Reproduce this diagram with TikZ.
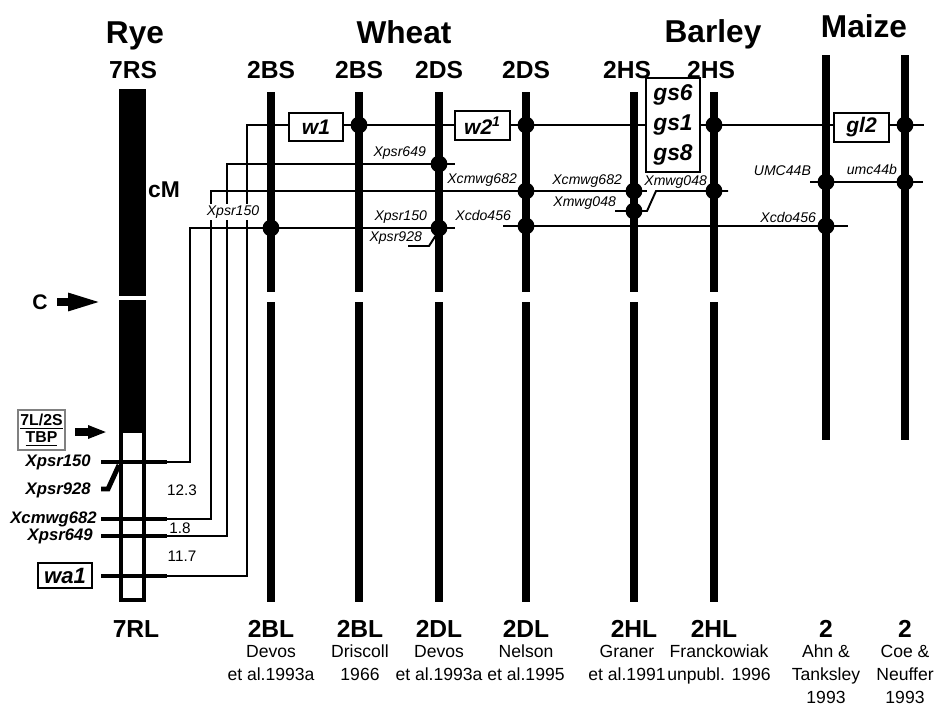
\documentclass[tikz,border=0pt]{standalone}
\usepackage{fontspec}
\setmainfont{Liberation Sans}
\usetikzlibrary{arrows.meta,positioning}
\newcommand{\fsz}[1]{\fontsize{#1}{#1}\selectfont}

\begin{document}
\begin{tikzpicture}[x=0.02cm,y=-0.02cm,
    chrom/.style={line width=4.5pt},
    link/.style={line width=1.1pt},
    rtick/.style={line width=2.8pt},
    locus/.style={circle,fill,inner sep=0pt,minimum size=9.6pt},
    gene/.style={draw,fill=white,line width=1.1pt,inner sep=0pt,minimum width=1.08cm,minimum height=0.56cm,font=\bfseries\itshape\fsz{12}},
    mlab/.style={font=\itshape\fsz{8},inner sep=1pt,anchor=east},
    rlab/.style={font=\bfseries\itshape\fsz{9.5},inner sep=0pt,anchor=east},
    title/.style={font=\bfseries\fsz{18},anchor=base},
    arm/.style={font=\bfseries\fsz{14},anchor=base},
    ref/.style={font=\fsz{10},inner sep=0pt,anchor=base},
    distlab/.style={font=\fsz{8.7}}
  ]
    \useasboundingbox (0,0) rectangle (952,707);

    % titles and short arms
    \node[title] (rye) at (135,43) {Rye};
    \node[title] (wheat) at (404,43) {Wheat};
    \node[title] (barley) at (713,42) {Barley};
    \node[title] (maize) at (864,37) {Maize};
    \foreach \x/\s [count=\i] in {133/7RS,271/2BS,359/2BS,439/2DS,526/2DS,627/2HS,711/2HS}
      \node[arm] (top\i) at (\x,78) {\s};

    % rye 7R
    \fill (119,89) rectangle (146,296);
    \fill (119,300) rectangle (146,431);
    \draw[line width=2.3pt] (121,431) rectangle (144,600);
    \node[font=\bfseries\fsz{13}] (unit) at (164,190) {cM};
    \node[font=\bfseries\fsz{12}] (cen) at (40,302) {C};
    \draw[line width=4.5pt,-{Triangle[length=19.8pt,width=9pt]}] (57,302) -- (103,302);
    \node[draw=gray,line width=0.6pt,font=\bfseries\fsz{9},align=center,inner sep=1pt,
      minimum width=0.94cm,minimum height=0.8cm] (tbp) at (41.5,430) {\underline{7L/2S}\\[1pt]\underline{TBP}};
    \draw[line width=4pt,-{Triangle[length=10.8pt,width=7pt]}] (75,432) -- (107,432);

    % wheat and barley chromosomes
    \foreach \x in {271,359,439,526,634,714}{
      \draw[chrom] (\x,92) -- (\x,292);
      \draw[chrom] (\x,302) -- (\x,602);
    }
    % maize chromosomes
    \foreach \x in {826,905}
      \draw[chrom] (\x,55) -- (\x,440);

    % rye markers
    \draw[rtick] (101,462) -- (167,462);
    \draw[rtick] (101,489) -- (108,489) -- (119,465);
    \draw[rtick] (101,519) -- (167,519);
    \draw[rtick] (101,536) -- (167,536);
    \draw[rtick] (101,576) -- (167,576);
    \node[rlab] (r150) at (91,462) {Xpsr150};
    \node[rlab] (r928) at (91,490) {Xpsr928};
    \node[rlab] (r682) at (97,519) {Xcmwg682};
    \node[rlab] (r649) at (93,536) {Xpsr649};
    \node[gene,font=\bfseries\itshape\fsz{12.6},minimum height=0.5cm] (wa1) at (65,575.5) {wa1};
    \node[distlab] (d1) at (182,490) {12.3};
    \node[distlab] (d2) at (180,528) {1.8};
    \node[distlab] (d3) at (182,556) {11.7};

    % links
    \draw[link] (167,462) -- (190,462) -- (190,228) -- (455,228);
    \draw[link] (167,519) -- (211,519) -- (211,191) -- (647,191);
    \draw[link] (167,536) -- (227,536) -- (227,164) -- (455,164);
    \draw[link] (167,576) -- (247,576) -- (247,125) -- (924,125);
    \draw[link] (503,226) -- (848,226);
    \draw[link] (615,211) -- (647,211) -- (656,191) -- (728,191);
    \draw[link] (810,182) -- (923,182);
    \draw[link] (408,246) -- (429,246) -- (438,232);

    % genes
    \node[gene] (w1) at (316,127) {w1};
    \node[gene,minimum width=1.1cm,minimum height=0.58cm] (w2) at (482.5,125.5) {w2\textsuperscript{1}};
    \node[gene,minimum height=1.88cm,align=center,font=\bfseries\itshape\fontsize{13}{17}\selectfont] (gs) at (673,125) {gs6\\gs1\\gs8};
    \node[gene,minimum width=1.1cm,minimum height=0.58cm] (gl2) at (861.5,127.5) {gl2};

    \foreach \p [count=\i] in {(359,125),(526,125),(714,125),(905,125),(439,164),(526,191),(634,191),
        (634,211),(714,191),(271,228),(439,228),(526,226),(826,226),(826,182),(905,182)}
      \node[locus] (loc\i) at \p {};

    % marker names
    \node[mlab,anchor=center,fill=white] (m0) at (233,212) {Xpsr150};
    \node[mlab] (m1) at (428,153) {Xpsr649};
    \node[mlab] (m2) at (519,180) {Xcmwg682};
    \node[mlab] (m3) at (429,217) {Xpsr150};
    \node[mlab] (m4) at (424,238) {Xpsr928};
    \node[mlab] (m5) at (513,215) {Xcdo456};
    \node[mlab] (m6) at (624,181) {Xcmwg682};
    \node[mlab] (m7) at (618,203) {Xmwg048};
    \node[mlab] (m8) at (709,182) {Xmwg048};
    \node[mlab] (m9) at (813,171) {UMC44B};
    \node[mlab] (m10) at (899,169) {umc44b};
    \node[mlab] (m11) at (818,217) {Xcdo456};

    % long arms and sources
    \node[arm] (bot0) at (136,637) {7RL};
    \foreach \x/\s/\rx/\la/\lb/\lc [count=\i] in {271/2BL/271/Devos/et al.1993a/{},360/2BL/360/Driscoll/1966/{},
        439/2DL/439/Devos/et al.1993a/{},526/2DL/526/Nelson/et al.1995/{},634/2HL/627/Graner/et al.1991/{},
        714/2HL/719/Franckowiak/unpubl. 1996/{},826/2/826/Ahn \&/Tanksley/1993,905/2/905/Coe \&/Neuffer/1993}{
      \node[arm] (bot\i) at (\x,637) {\s};
      \node[ref] (srca\i) at (\rx,657) {\la};
      \node[ref] (srcb\i) at (\rx,680) {\lb};
      \node[ref] (srcc\i) at (\rx,703) {\lc};
    }
  \end{tikzpicture}
\end{document}
